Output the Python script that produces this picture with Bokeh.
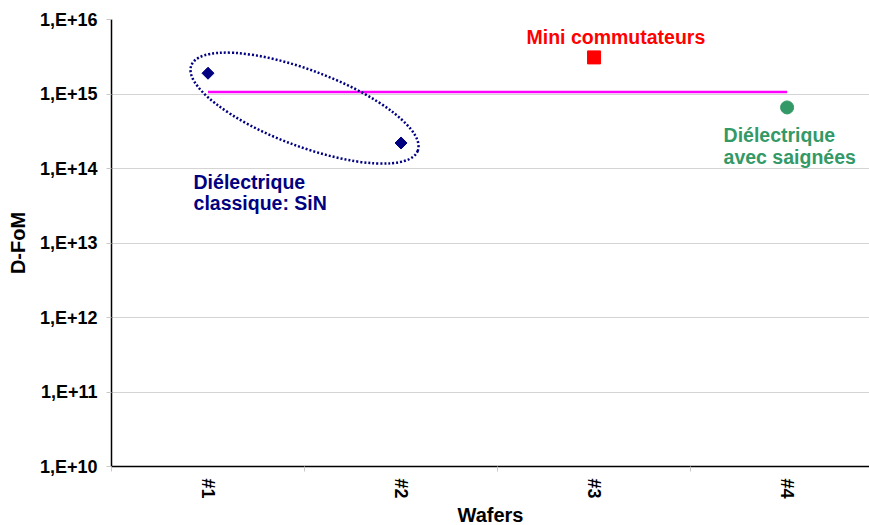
import math
from bokeh.plotting import figure
from bokeh.models import FixedTicker, CustomJSTickFormatter, Range1d, Title
from bokeh.core.properties import value
from bokeh.embed import file_html
from bokeh.resources import INLINE

# ---- data ----
wafers = ["#1", "#2", "#3", "#4"]
wafer_pos = [1, 2, 3, 4]

sin_x = [1, 2]
sin_dfom = [1.9e15, 2.2e14]

mini_x = [3]
mini_dfom = [3.1e15]

sai_x = [4]
sai_dfom = [6.6e14]

ref_x = [1, 2, 3, 4]
ref_dfom = [1.06e15, 1.06e15, 1.06e15, 1.06e15]

y_ticks = [1e10, 1e11, 1e12, 1e13, 1e14, 1e15, 1e16]
y_tick_labels = ["1,E+10", "1,E+11", "1,E+12", "1,E+13", "1,E+14", "1,E+15", "1,E+16"]

FONT_NAME = "Liberation Sans"
FONT = value(FONT_NAME)
NAVY = "#000080"
RED = "#FF0000"
GREEN = "#339966"
MAGENTA = "#FF00FF"

p = figure(width=869, height=525, y_axis_type="log",
           x_range=Range1d(0.5, 4.427), y_range=Range1d(1e10, 1e16),
           output_backend="svg", toolbar_location=None,
           min_border_left=111, min_border_top=19, min_border_right=0,
           min_border_bottom=0)
p.outline_line_color = None
p.background_fill_color = "white"
p.border_fill_color = "white"

# grid
yt = FixedTicker(ticks=y_ticks)
p.yaxis.ticker = yt
p.ygrid.ticker = yt
p.ygrid.grid_line_color = "#d4d4d4"
p.ygrid.grid_line_width = 1
p.xgrid.visible = False

# y axis
p.yaxis.formatter = CustomJSTickFormatter(
    args=dict(labels=y_tick_labels),
    code="return labels[Math.round(Math.log10(tick)) - 10];")
p.yaxis.axis_line_color = "black"
p.yaxis.axis_line_width = 1.5
p.yaxis.major_tick_out = 5
p.yaxis.major_tick_in = 0
p.yaxis.major_tick_line_color = "#c8c8c8"
p.yaxis.minor_tick_line_color = None
p.yaxis.major_label_standoff = 9
p.yaxis.major_label_text_font = FONT_NAME
p.yaxis.major_label_text_font_style = "bold"
p.yaxis.major_label_text_font_size = "18px"
p.yaxis.major_label_text_color = "black"
p.yaxis.axis_label = "D-FoM"
p.yaxis.axis_label_text_font = FONT_NAME
p.yaxis.axis_label_text_font_style = "bold"
p.yaxis.axis_label_text_font_size = "20px"
p.yaxis.axis_label_text_color = "black"
p.yaxis.axis_label_standoff = 8

# x axis
p.xaxis.ticker = FixedTicker(ticks=wafer_pos, minor_ticks=[0.5, 1.5, 2.5, 3.5])
p.xaxis.formatter = CustomJSTickFormatter(
    args=dict(labels=wafers),
    code="return labels[Math.round(tick) - 1];")
p.xaxis.axis_line_color = "black"
p.xaxis.axis_line_width = 1.5
p.xaxis.major_tick_line_color = None
p.xaxis.major_tick_out = 5
p.xaxis.major_tick_in = 0
p.xaxis.minor_tick_out = 5
p.xaxis.minor_tick_in = 0
p.xaxis.minor_tick_line_color = "#c8c8c8"
p.xaxis.major_label_orientation = "vertical"
p.xaxis.major_label_standoff = 7
p.xaxis.major_label_text_font = FONT_NAME
p.xaxis.major_label_text_font_style = "bold"
p.xaxis.major_label_text_font_size = "18px"
p.xaxis.major_label_text_color = "black"

# x-axis title as a title below the plot, shifted to the centre of the full span
p.add_layout(Title(text="Wafers", align="center", offset=7, standoff=0,
                   text_font=FONT_NAME, text_font_style="bold",
                   text_font_size="20px", text_color="black"), "below")

# reference line
p.line(ref_x, ref_dfom, line_color=MAGENTA, line_width=2.5)

# ellipse around SiN points
cx = sum(sin_x) / len(sin_x)
cy = math.sqrt(sin_dfom[0] * sin_dfom[1])
p.ellipse(x=[cx], y=[cy], width=242, height=76, angle=-0.36,
          width_units="screen", height_units="screen",
          fill_color=None, line_color=NAVY, line_width=2.5, line_dash="2 2")

# points
p.scatter(sin_x, sin_dfom, marker="square", size=8.5, angle=math.pi / 4,
          fill_color=NAVY, line_color=NAVY)
p.scatter(mini_x, mini_dfom, marker="square", size=13,
          fill_color=RED, line_color=RED)
p.scatter(sai_x, sai_dfom, marker="circle", size=13,
          fill_color=GREEN, line_color=GREEN)

# annotations
def lbl(xs, ys, texts, color):
    p.text(x=xs, y=ys, text=texts, text_font=FONT, text_font_style="bold",
           text_font_size="19.5px", text_color=color,
           text_align="left", text_baseline="middle")

lbl([0.925, 0.925], [6.6e13, 3.44e13], ["Diélectrique", "classique: SiN"], NAVY)
lbl([2.65], [5.91e15], ["Mini commutateurs"], RED)
lbl([3.671, 3.671], [2.82e14, 1.42e14], ["Diélectrique", "avec saignées"], GREEN)

open("out.html", "w").write(file_html(p, INLINE))
